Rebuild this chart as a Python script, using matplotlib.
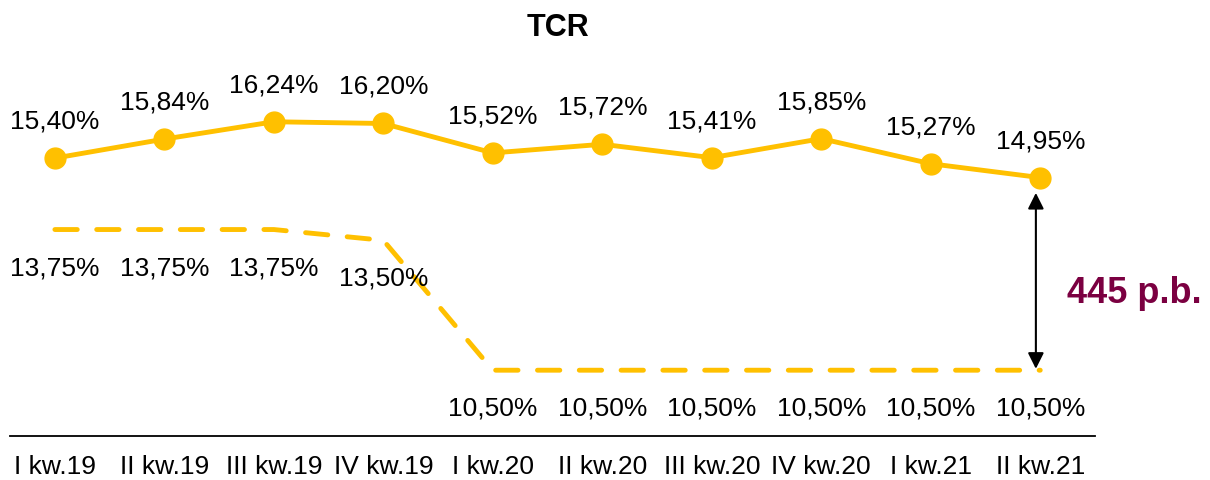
import matplotlib
matplotlib.use("Agg")
from matplotlib import pyplot as plt

plt.rcParams['font.family'] = ['Liberation Sans', 'DejaVu Sans']

quarters = ['I kw.19', 'II kw.19', 'III kw.19', 'IV kw.19', 'I kw.20',
            'II kw.20', 'III kw.20', 'IV kw.20', 'I kw.21', 'II kw.21']
tcr = [15.40, 15.84, 16.24, 16.20, 15.52, 15.72, 15.41, 15.85, 15.27, 14.95]
req = [13.75, 13.75, 13.75, 13.50, 10.50, 10.50, 10.50, 10.50, 10.50, 10.50]
gap_label = '445 p.b.'

yellow = '#FFC000'

fig = plt.figure(figsize=(12.1, 4.81), dpi=100)
ax = fig.add_axes([10 / 1210, 44 / 481, 1085 / 1210, 377 / 481])

x = list(range(len(quarters)))
ax.plot(x, tcr, color=yellow, lw=3.5, marker='o', ms=15, zorder=3)
ax.plot(x, req, color=yellow, lw=3.5, dashes=(4.6, 4), dash_capstyle='round',
        zorder=2)

fmt = lambda v: ('%.2f%%' % v).replace('.', ',')
for i, v in enumerate(tcr):
    ax.annotate(fmt(v), (i, v), xytext=(0, 27), textcoords='offset points',
                ha='center', va='center', fontsize=19)
for i, v in enumerate(req):
    ax.annotate(fmt(v), (i, v), xytext=(0, -27), textcoords='offset points',
                ha='center', va='center', fontsize=19)

# strzalka roznicy
ax.annotate('', xy=(8.96, req[-1]), xytext=(8.96, tcr[-1]),
            arrowprops=dict(arrowstyle='<|-|>', color='black', lw=1.5,
                            mutation_scale=24, shrinkA=11, shrinkB=1))
ax.text(9.24, 12.3, gap_label, color='#7B0041', fontsize=26,
        fontweight='bold', ha='left', va='center')

ax.set_xlim(-0.41, 9.5)
ax.set_ylim(8.98, 17.69)
ax.set_xticks(x)
ax.set_xticklabels(quarters, fontsize=19)
ax.tick_params(axis='x', length=0, pad=13)
ax.set_yticks([])
for s in ['left', 'right', 'top']:
    ax.spines[s].set_visible(False)
ax.spines['bottom'].set_linewidth(1.3)

fig.text(558 / 1210, 1 - 28 / 481, 'TCR', fontsize=22, fontweight='bold',
         ha='center', va='center')

fig.savefig('out.png', dpi=100)
